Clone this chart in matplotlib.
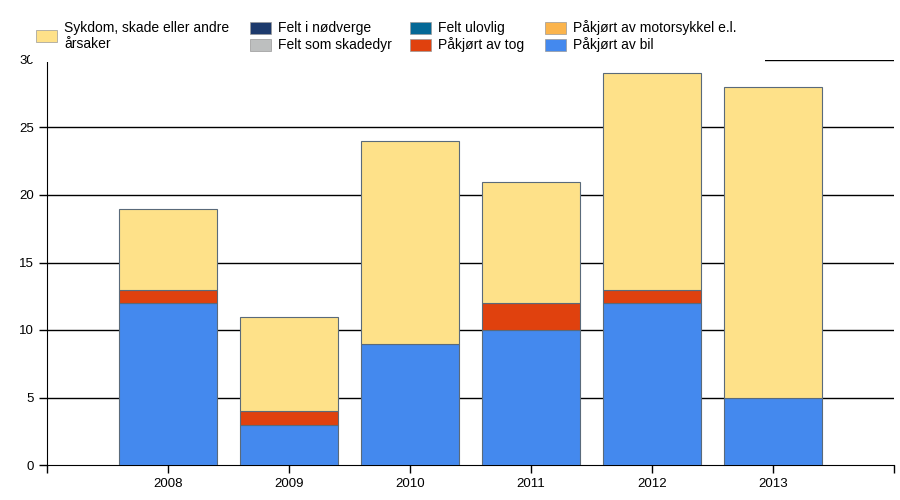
import matplotlib.pyplot as plt
from matplotlib.patches import Rectangle

years = ['2008', '2009', '2010', '2011', '2012', '2013']

# antall per årsak og år
bil = [12, 3, 9, 10, 12, 5]
motorsykkel = [0, 0, 0, 0, 0, 0]
tog = [1, 1, 0, 2, 1, 0]
skadedyr = [0, 0, 0, 0, 0, 0]
ulovlig = [0, 0, 0, 0, 0, 0]
nodverge = [0, 0, 0, 0, 0, 0]
sykdom = [6, 7, 15, 9, 16, 23]

series = [
    ('Påkjørt av bil', bil, '#4489ee'),
    ('Påkjørt av motorsykkel e.l.', motorsykkel, '#fbb44c'),
    ('Påkjørt av tog', tog, '#e0410e'),
    ('Felt som skadedyr', skadedyr, '#bdbfbf'),
    ('Felt ulovlig', ulovlig, '#046896'),
    ('Felt i nødverge', nodverge, '#1d3a6c'),
    ('Sykdom, skade eller andre\nårsaker', sykdom, '#fee189'),
]

fig = plt.figure(figsize=(9, 5), dpi=100)
ax = fig.add_axes([47 / 900, 35 / 500, 847 / 900, 405 / 500])

x = list(range(len(years)))
bottom = [0] * len(years)
for name, vals, color in series:
    lw = [0.8 if v else 0 for v in vals]
    ax.bar(x, vals, width=0.81, bottom=bottom, color=color,
           edgecolor='#5a6a7a', linewidth=lw, zorder=3)
    bottom = [b + v for b, v in zip(bottom, vals)]

ax.set_xlim(-1, 6)
ax.set_ylim(0, 30)
ax.set_yticks([0, 5, 10, 15, 20, 25, 30])
ax.set_xticks(range(-1, 7))
ax.set_xticklabels([''] + years + [''])
for y in [5, 10, 15, 20, 25, 30]:
    ax.axhline(y, color='black', linewidth=1, zorder=1)

for s in ['top', 'right']:
    ax.spines[s].set_visible(False)
ax.tick_params(axis='both', direction='out', length=6, width=1,
               labelsize=9.5, colors='black')
for lab in ax.get_xticklabels() + ax.get_yticklabels():
    lab.set_fontfamily('Liberation Sans')

# hvit legendeflate over toppen
fig.patches.append(Rectangle((30 / 900, 1 - 62 / 500), 735 / 900, 62 / 500,
                             transform=fig.transFigure, facecolor='white',
                             edgecolor='none', zorder=10))

legend_items = [
    ('Sykdom, skade eller andre\nårsaker', '#fee189', 36, 36),
    ('Felt i nødverge', '#1d3a6c', 250, 28),
    ('Felt som skadedyr', '#bdbfbf', 250, 45),
    ('Felt ulovlig', '#046896', 410, 28),
    ('Påkjørt av tog', '#e0410e', 410, 45),
    ('Påkjørt av motorsykkel e.l.', '#fbb44c', 545, 28),
    ('Påkjørt av bil', '#4489ee', 545, 45),
]
for text, color, px, py in legend_items:
    fig.patches.append(Rectangle((px / 900, 1 - (py + 6) / 500), 21 / 900, 12 / 500,
                                 transform=fig.transFigure, facecolor=color,
                                 edgecolor='#999999', linewidth=0.5, zorder=11))
    fig.text((px + 28) / 900, 1 - py / 500, text, ha='left', va='center',
             fontsize=10, family='Liberation Sans', linespacing=1.1,
             zorder=12)

fig.savefig('out.png')
